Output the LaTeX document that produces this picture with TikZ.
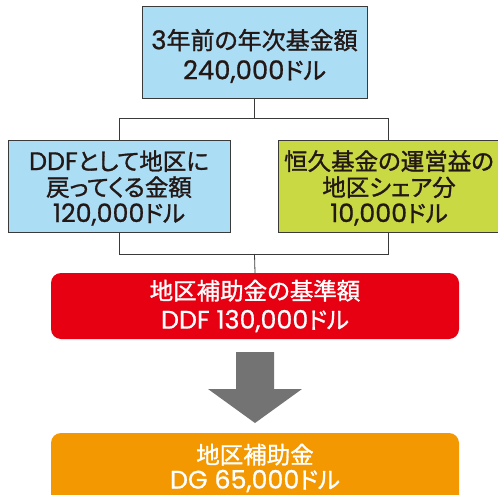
\documentclass[tikz,border=0pt]{standalone}
\usepackage{fontspec}
\setmainfont{Noto Sans CJK JP}[RawFeature={+palt;embolden=1.2}]
\newfontfamily\latf{Poppins}[Scale=1.08, RawFeature={embolden=0.8}]
\newcommand\lt[1]{{\latf #1}}
\definecolor{skyb}{HTML}{ABDDF5}
\definecolor{limeg}{HTML}{C9D944}
\definecolor{redb}{HTML}{E60012}
\definecolor{orangeb}{HTML}{F39800}
\definecolor{arrowg}{HTML}{737373}
\definecolor{txt}{HTML}{231815}
\definecolor{lineg}{HTML}{3A3A3A}
\tikzset{
  box/.style={draw=lineg, line width=0.8pt, inner sep=0pt},
  rbox/.style={rounded corners=10pt, inner sep=0pt},
  btxt/.style={align=center, text=txt, inner sep=0pt},
  wtxt/.style={align=center, text=white, inner sep=0pt},
  conn/.style={draw=lineg, line width=0.8pt}
}
\begin{document}
\begin{tikzpicture}[x=1pt,y=-1pt]
\useasboundingbox (0,0) rectangle (498,495);
\begin{scope}
\clip (0,0) rectangle (498,495);
\node[box, fill=skyb, minimum width=225pt, minimum height=92pt] (top) at (254.5,52) {};
\node[box, fill=skyb, minimum width=222pt, minimum height=92pt] (left) at (119,186) {};
\node[box, fill=limeg, minimum width=220pt, minimum height=92pt] (right) at (388.5,186) {};
\node[rbox, fill=redb, minimum width=408pt, minimum height=66pt] (red) at (255,306) {};
\node[rbox, fill=orangeb, minimum width=408pt, minimum height=74pt] (orange) at (255,470) {};
\end{scope}
\node[btxt, font=\fontsize{24}{30}\selectfont] (toptxt) at (254.5,56) {\lt{3}年前の年次基金額\\\lt{240,000}ドル};
\node[btxt, font=\fontsize{23.5}{26}\selectfont] (lefttxt) at (119,188) {\lt{DDF}として地区に\\戻ってくる金額\\\lt{120,000}ドル};
\node[btxt, font=\fontsize{23.5}{26}\selectfont] (righttxt) at (389,188) {恒久基金の運営益の\\地区シェア分\\\lt{10,000}ドル};
\node[wtxt, font=\fontsize{23.5}{29}\selectfont] (redtxt) at (255,306) {地区補助金の基準額\\\lt{DDF 130,000}ドル};
\node[wtxt, font=\fontsize{23.5}{25}\selectfont] (orangetxt) at (255,468) {地区補助金\\\lt{DG 65,000}ドル};
\coordinate (j1) at (254.5,118);
\coordinate (j2) at (254.5,254);
\draw[conn] (top.south) -- (j1);
\draw[conn] (j1) -| (left.north);
\draw[conn] (j1) -| (right.north);
\draw[conn] (left.south) |- (j2);
\draw[conn] (right.south) |- (j2);
\draw[conn] (j2) -- (red.north);
\fill[arrowg] (236,352) -- (274,352) -- (274,389) -- (302,389) -- (255,423) -- (208,389) -- (236,389) -- cycle;
\end{tikzpicture}
\end{document}
